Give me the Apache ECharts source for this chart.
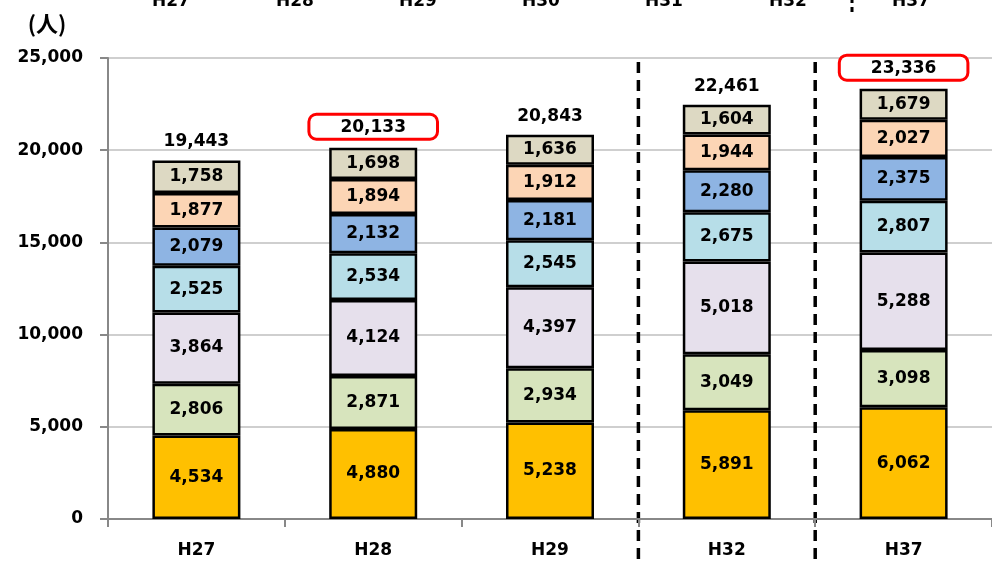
<!DOCTYPE html>
<html>
<head>
    <meta charset="UTF-8">
    <title>人数推計</title>
    <script src="https://cdn.jsdelivr.net/npm/echarts@6/dist/echarts.min.js"></script>
    <style>
      html, body { margin: 0; padding: 0; background: #fff; }
      #container { width: 992px; height: 561px; }
    </style>
</head>
<body>
<div id="container"></div>
<script>
    // 年度
    var years = ['H27', 'H28', 'H29', 'H32', 'H37']
    // 上の見出し（切れている部分）
    var headYears = ['H27', 'H28', 'H29', 'H30', 'H31', 'H32', 'H37']
    var headX = [171, 295, 418, 541, 664, 788, 911]

    // 積み上げ（下から）
    var s1 = [4534, 4880, 5238, 5891, 6062]
    var s2 = [2806, 2871, 2934, 3049, 3098]
    var s3 = [3864, 4124, 4397, 5018, 5288]
    var s4 = [2525, 2534, 2545, 2675, 2807]
    var s5 = [2079, 2132, 2181, 2280, 2375]
    var s6 = [1877, 1894, 1912, 1944, 2027]
    var s7 = [1758, 1698, 1636, 1604, 1679]
    var totals = [19443, 20133, 20843, 22461, 23336]
    var boxed = [false, true, false, false, true]   // 赤枠

    var colors = ['#FFC000', '#D7E4BD', '#E6E0EC', '#B7DEE8', '#8EB4E3', '#FCD5B5', '#DDD9C3']
    var font = 'DejaVu Sans'

    function fmt(v) {
        return String(v).replace(/\B(?=(\d{3})+(?!\d))/g, ',')
    }

    // 合計ラベル用（透明の棒）
    var series = [{
        type: 'bar',
        barWidth: 88,
        barGap: '-100%',
        z: 1,
        data: totals.map(function (v, i) {
            var item = { value: v }
            if (boxed[i]) {
                item.label = {
                    borderColor: '#FF0000',
                    borderWidth: 3,
                    borderRadius: 6,
                    padding: [3, 30, 2, 30],
                    backgroundColor: '#fff'
                }
            }
            return item
        }),
        itemStyle: { color: 'rgba(255,255,255,0)' },
        label: {
            show: true,
            position: 'top',
            distance: 10,
            color: '#000',
            fontFamily: font,
            fontWeight: 'bold',
            fontSize: 17,
            formatter: function (p) { return fmt(p.value) }
        },
        silent: true
    }]

    var stackData = [s1, s2, s3, s4, s5, s6, s7]
    stackData.forEach(function (arr, i) {
        series.push({
            type: 'bar',
            stack: 'all',
            barWidth: 88,
            z: 2,
            data: arr,
            itemStyle: { color: colors[i], borderColor: '#000', borderWidth: 2.5 },
            label: {
                show: true,
                position: 'inside',
                color: '#000',
                fontFamily: font,
                fontWeight: 'bold',
                fontSize: 17,
                formatter: function (p) { return fmt(p.value) }
            },
            silent: true
        })
    })

    var dom = document.getElementById('container')
    var myChart = echarts.init(dom)
    var option = {
        backgroundColor: '#FFFFFF',
        animation: false,
        grid: { left: 108, right: -8, top: 58, bottom: 42, containLabel: false },
        xAxis: {
            type: 'category',
            data: years,
            axisLine: { lineStyle: { color: '#888', width: 2 } },
            axisTick: { show: true, length: 8, lineStyle: { color: '#888', width: 2 } },
            axisLabel: { color: '#000', fontFamily: font, fontWeight: 'bold', fontSize: 17, margin: 23 }
        },
        yAxis: {
            type: 'value',
            min: 0,
            max: 25000,
            interval: 5000,
            axisLine: { show: true, lineStyle: { color: '#888', width: 2 } },
            axisTick: { show: true, length: 8, lineStyle: { color: '#888', width: 2 } },
            splitLine: { lineStyle: { color: '#CFCFCF', width: 2 } },
            axisLabel: {
                color: '#000', fontFamily: font, fontWeight: 'bold', fontSize: 17, margin: 25,
                formatter: function (v) { return fmt(v) }
            }
        },
        series: series
    }
    myChart.setOption(option, true)

    // 区切りの破線（カテゴリの境界）
    var graphics = []
    var cx = years.map(function (y) { return myChart.convertToPixel({ xAxisIndex: 0 }, y) })
    ;[[2, 3], [3, 4]].forEach(function (pair) {
        var x = (cx[pair[0]] + cx[pair[1]]) / 2
        graphics.push({
            type: 'line',
            shape: { x1: x, y1: 62, x2: x, y2: 561 },
            style: { stroke: '#000', lineWidth: 3.5, lineDash: [11, 7] },
            silent: true
        })
    })
    headYears.forEach(function (t, i) {
        graphics.push({
            type: 'text', x: headX[i], y: 2,
            style: { text: t, fill: '#000', font: 'bold 17px "DejaVu Sans"', align: 'center', verticalAlign: 'middle' }
        })
    })
    graphics.push({
        type: 'line',
        shape: { x1: 852, y1: -2, x2: 852, y2: 12 },
        style: { stroke: '#000', lineWidth: 3, lineDash: [5, 4] }
    })
    graphics.push({
        type: 'text', x: 47, y: 24,
        style: { text: '(人)', fill: '#000', font: 'bold 22px "Noto Sans CJK JP"', align: 'center', verticalAlign: 'middle' }
    })
    myChart.setOption({ graphic: graphics })
</script>
</body>
</html>
